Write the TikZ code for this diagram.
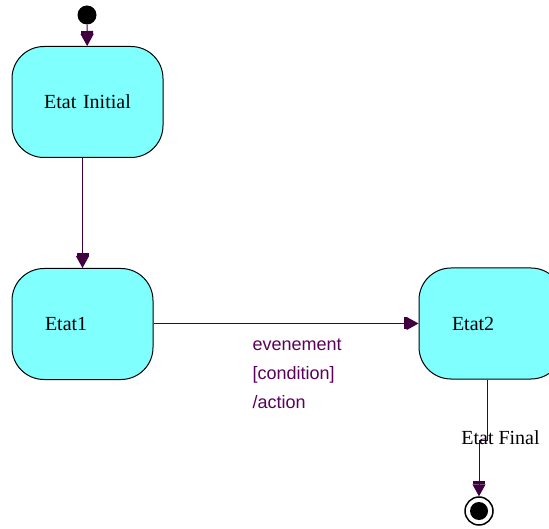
\documentclass[tikz,border=0pt]{standalone}
\usepackage{fontspec}
\setmainfont{Liberation Serif}
\newfontfamily\guardfont{Liberation Sans}
\usepackage{tikz}
\usetikzlibrary{arrows.meta}
\definecolor{statefill}{RGB}{128,255,255}
\definecolor{linecol}{RGB}{64,0,64}
\definecolor{guardcol}{RGB}{90,0,90}

\begin{document}
\begin{tikzpicture}[x=1pt, y=-1pt,
    state/.style={draw=black, fill=statefill, line width=1pt, rounded corners=32pt,
        minimum height=111pt, inner xsep=33pt, align=left,
        font=\fontsize{20}{22}\selectfont},
    arr/.style={draw=linecol, line width=1pt,
        -{Rectangle[length=3pt,width=12pt]Triangle[length=12pt,width=13pt]}},
    guard/.style={text=guardcol, align=left, inner sep=0pt,
        font=\guardfont\fontsize{18}{29}\selectfont}]
        \useasboundingbox (0,0) rectangle (549,529);
        \clip (0,0) rectangle (549,529);

        % States
        \node[circle, fill=black, minimum size=19pt, inner sep=0pt] (start) at (87,15) {};
        \node[state, text width=91pt, inner xsep=30pt, align=center] (initial) at (87.5,102) {Etat Initial};
        \node[state, text width=75pt] (etat1) at (82.5,324) {Etat1};
        \node[state, text width=78pt] (etat2) at (491,323.5) {Etat2};
        \node[circle, draw=black, line width=1.5pt, minimum size=28pt, inner sep=0pt] (final) at (479,511) {};
        \node[circle, fill=black, minimum size=18pt, inner sep=0pt] (finaldot) at (final) {};

        \coordinate (bendA) at (487,440);
        \coordinate (bendB) at (479,440);

        % Transitions
        \draw[arr] (start) -- (initial);
        \draw[arr] (initial.south -| etat1.north) -- (etat1.north);
        \draw[arr] (etat1.east |- etat2.west) -- (etat2.west)
            node[guard, pos=0.372, anchor=north west, yshift=-15pt] (event) {evenement\\ {[}condition{]}\\/action};
        \draw[arr] (etat2.south -| bendA) -- (bendA) -- (bendB) -- (final);
        \node[text=black, font=\fontsize{20}{22}\selectfont] (finallabel) at (500.5,438) {Etat Final};

    \end{tikzpicture}
\end{document}
